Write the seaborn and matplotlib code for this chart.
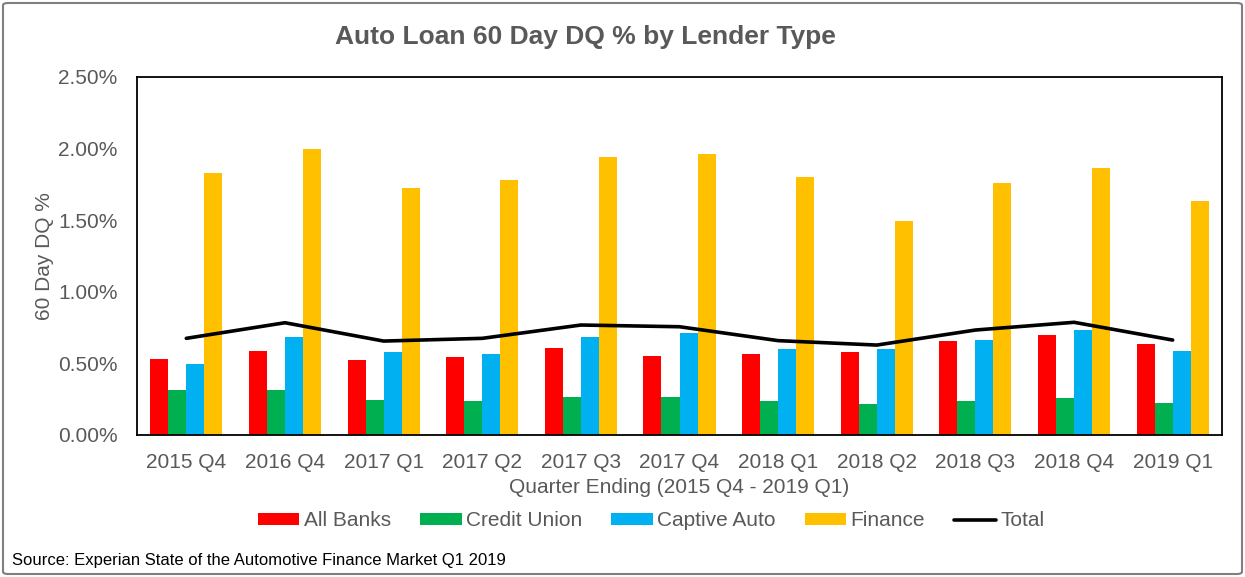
import matplotlib
matplotlib.use("Agg")
import matplotlib.pyplot as plt
import seaborn as sns
import pandas as pd
import numpy as np
from matplotlib.patches import FancyBboxPatch, Patch
from matplotlib.lines import Line2D
from matplotlib.ticker import FuncFormatter

quarters = ["2015 Q4", "2016 Q4", "2017 Q1", "2017 Q2", "2017 Q3", "2017 Q4",
            "2018 Q1", "2018 Q2", "2018 Q3", "2018 Q4", "2019 Q1"]
all_banks = [0.531, 0.587, 0.524, 0.545, 0.610, 0.554, 0.566, 0.580, 0.656, 0.698, 0.633]
credit_union = [0.312, 0.312, 0.244, 0.235, 0.268, 0.268, 0.235, 0.214, 0.235, 0.258, 0.226]
captive_auto = [0.498, 0.686, 0.577, 0.566, 0.686, 0.710, 0.598, 0.598, 0.666, 0.731, 0.589]
finance = [1.832, 1.997, 1.723, 1.779, 1.943, 1.964, 1.800, 1.494, 1.758, 1.867, 1.636]
total = [0.675, 0.784, 0.656, 0.675, 0.768, 0.756, 0.659, 0.628, 0.733, 0.787, 0.663]

series_names = ["All Banks", "Credit Union", "Captive Auto", "Finance"]
colors = ["#FF0000", "#00B050", "#00B0F0", "#FFC000"]

rows = []
for name, vals in zip(series_names, [all_banks, credit_union, captive_auto, finance]):
    for q, v in zip(quarters, vals):
        rows.append({"Quarter": q, "Lender": name, "Value": v})
df = pd.DataFrame(rows)

sns.set_theme(style="white")
plt.rcParams['font.family'] = ['Liberation Sans', 'DejaVu Sans']

fig = plt.figure(figsize=(12.45, 5.77), dpi=100)
ax = fig.add_axes([137/1245, 1 - 435/577, (1222 - 137)/1245, (435 - 77)/577])

sns.barplot(data=df, x="Quarter", y="Value", hue="Lender", order=quarters,
            hue_order=series_names, palette=colors, width=0.73, linewidth=0,
            saturation=1, ax=ax, legend=False)
sns.lineplot(x=np.arange(len(quarters)), y=total, color="black", linewidth=2.6, ax=ax)

ax.set_xlim(-0.5, len(quarters) - 0.5)
ax.set_ylim(0, 2.5)
ax.set_yticks([0, 0.5, 1.0, 1.5, 2.0, 2.5])
ax.yaxis.set_major_formatter(FuncFormatter(lambda v, p: f"{v:.2f}%"))
ax.tick_params(axis="both", labelsize=15, colors="#595959", length=0)
ax.tick_params(axis="x", pad=13)
ax.tick_params(axis="y", pad=14)
for s in ax.spines.values():
    s.set_visible(True)
    s.set_color("black")
    s.set_linewidth(1.3)
ax.grid(False)
ax.set_xlabel("Quarter Ending (2015 Q4 - 2019 Q1)", fontsize=15, color="#595959", labelpad=4)
ax.set_ylabel("60 Day DQ %", fontsize=15, color="#595959", labelpad=3)

fig.text(585/1245, 1 - 37/577, "Auto Loan 60 Day DQ % by Lender Type", ha="center", va="center",
         fontsize=19, fontweight="bold", color="#595959")

handles = [Patch(facecolor=c, edgecolor="none") for c in colors]
handles.append(Line2D([0], [0], color="black", linewidth=2.6))
leg = fig.legend(handles, series_names + ["Total"], loc="center", ncol=5,
                 bbox_to_anchor=(651/1245, 1 - 521/577), frameon=False, fontsize=15,
                 handlelength=2.0, handleheight=0.55, handletextpad=0.2, columnspacing=1.4)
for t in leg.get_texts():
    t.set_color("#595959")

fig.text(12/1245, 1 - 560/577, "Source: Experian State of the Automotive Finance Market Q1 2019",
         ha="left", va="center", fontsize=12, color="black")

border = FancyBboxPatch((3/1245, 3/577), 1 - 6/1245, 1 - 6/577,
                        boxstyle="round,pad=0,rounding_size=0.004", transform=fig.transFigure,
                        facecolor="none", edgecolor="#7F7F7F", linewidth=1.5)
fig.patches.append(border)

fig.savefig("out.png", dpi=100)
